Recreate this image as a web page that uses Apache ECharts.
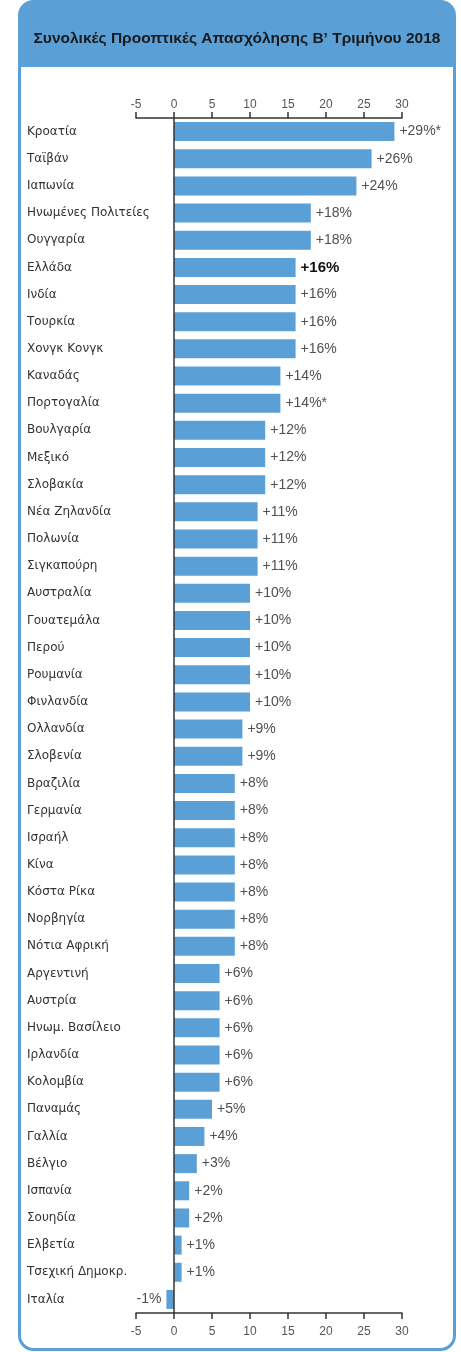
<!DOCTYPE html>
<html>
<head>
<meta charset="utf-8">
<script src="https://cdn.jsdelivr.net/npm/echarts@6/dist/echarts.min.js"></script>
<style>
html,body{margin:0;padding:0;background:#fff;}
#chart{width:461px;height:1352px;}
</style>
</head>
<body>
<div id="chart"></div>
<script>
const title = 'Συνολικές Προοπτικές Απασχόλησης Β’ Τριμήνου 2018';
const categories = ['Κροατία','Ταϊβάν','Ιαπωνία','Ηνωμένες Πολιτείες','Ουγγαρία','Ελλάδα','Ινδία','Τουρκία','Χονγκ Κονγκ','Καναδάς','Πορτογαλία','Βουλγαρία','Μεξικό','Σλοβακία','Νέα Ζηλανδία','Πολωνία','Σιγκαπούρη','Αυστραλία','Γουατεμάλα','Περού','Ρουμανία','Φινλανδία','Ολλανδία','Σλοβενία','Βραζιλία','Γερμανία','Ισραήλ','Κίνα','Κόστα Ρίκα','Νορβηγία','Νότια Αφρική','Αργεντινή','Αυστρία','Ηνωμ. Βασίλειο','Ιρλανδία','Κολομβία','Παναμάς','Γαλλία','Βέλγιο','Ισπανία','Σουηδία','Ελβετία','Τσεχική Δημοκρ.','Ιταλία'];
const values = [29,26,24,18,18,16,16,16,16,14,14,12,12,12,11,11,11,10,10,10,10,10,9,9,8,8,8,8,8,8,8,6,6,6,6,6,5,4,3,2,2,1,1,-1];
const notes = ['*','','','','','','','','','','*','','','','','','','','','','','','','','','','','','','','','','','','','','','','','','','','',''];
const highlight = 'Ελλάδα';
const axisMin = -5, axisMax = 30, axisStep = 5;

const BLUE = '#5b9fd7';
const chart = echarts.init(document.getElementById('chart'), null, {renderer:'canvas'});

const barData = values.map((v, i) => {
  const isHi = categories[i] === highlight;
  return {
    value: v,
    label: {
      show: true,
      position: v < 0 ? 'left' : 'right',
      distance: 5,
      formatter: (v > 0 ? '+' : '') + v + '%' + notes[i],
      fontFamily: 'Liberation Sans, Arial, sans-serif',
      fontSize: isHi ? 15 : 14,
      fontWeight: isHi ? 'bold' : 'normal',
      color: isHi ? '#111' : '#505050'
    }
  };
});

const xAxisCommon = {
  type: 'value', min: axisMin, max: axisMax, interval: axisStep,
  splitLine: {show: false},
  axisLine: {show: true, onZero: false, lineStyle: {color: '#333', width: 1.5}},
  axisTick: {show: true, length: 6, lineStyle: {color: '#333', width: 1.5}},
  axisLabel: {color: '#555', fontSize: 12, fontFamily: 'Liberation Sans, Arial, sans-serif'}
};

chart.setOption({
  animation: false,
  backgroundColor: '#fff',
  graphic: [
    {type: 'rect', z: 0, shape: {x: 19.5, y: 1, width: 435, height: 66, r: [14,14,0,0]}, style: {fill: BLUE}},
    {type: 'rect', z: 1, shape: {x: 19.5, y: 1.5, width: 435, height: 1348, r: 14}, style: {fill: 'none', stroke: BLUE, lineWidth: 3}},
    {type: 'text', z: 2, x: 237, y: 39, style: {text: title, fill: '#1a1a1a', align: 'center', verticalAlign: 'middle', font: 'bold 15.5px "Liberation Sans", Arial, sans-serif'}}
  ],
  grid: {left: 136, right: 59, top: 118, bottom: 39, containLabel: false},
  xAxis: [
    Object.assign({}, xAxisCommon, {position: 'top', axisLabel: Object.assign({}, xAxisCommon.axisLabel, {margin: 7})}),
    Object.assign({}, xAxisCommon, {position: 'bottom', axisLabel: Object.assign({}, xAxisCommon.axisLabel, {margin: 13})})
  ],
  yAxis: {
    type: 'category', data: categories, inverse: true,
    axisLine: {show: false}, axisTick: {show: false},
    axisLabel: {align: 'left', margin: 109, color: '#333', fontSize: 12, fontFamily: '"DejaVu Sans", sans-serif'}
  },
  series: [{
    type: 'bar', xAxisIndex: 0, data: barData, barWidth: 19,
    itemStyle: {color: BLUE},
    markLine: {
      silent: true, symbol: 'none', label: {show: false},
      lineStyle: {color: '#333', width: 1.5, type: 'solid'},
      data: [{xAxis: 0}]
    }
  }]
});
</script>
</body>
</html>
